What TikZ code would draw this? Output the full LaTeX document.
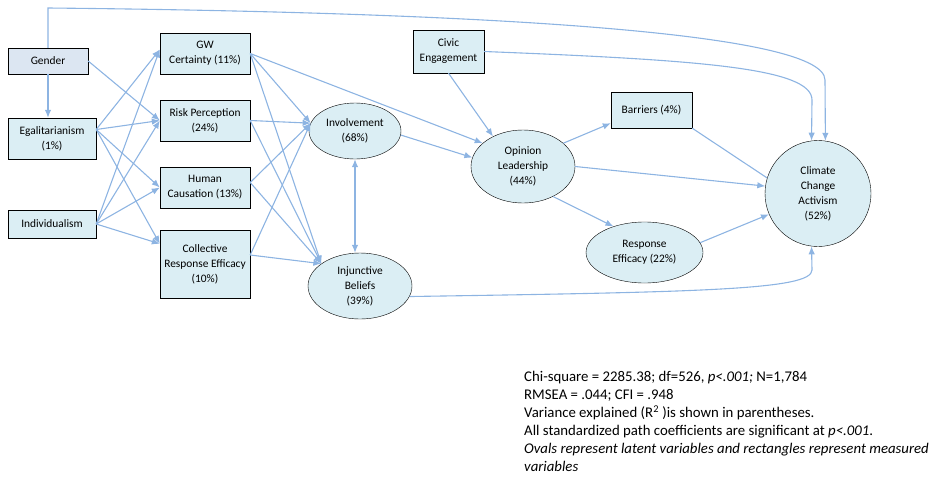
\documentclass[tikz,border=0pt]{standalone}
\usepackage{fontspec}
\setmainfont{Carlito}
\usetikzlibrary{positioning, calc, arrows.meta, shapes.geometric}

\definecolor{linkblue}{RGB}{141,180,226}
\definecolor{boxfill}{RGB}{219,238,244}
\definecolor{genderfill}{RGB}{220,230,242}

\begin{document}
\begin{tikzpicture}[x=1pt, y=-1pt,
    measured/.style={draw, fill=boxfill, align=center, inner sep=1pt, font=\fontsize{11.4}{15}\selectfont},
    latent/.style={ellipse, draw, fill=boxfill, align=center, inner sep=0pt, font=\fontsize{11.4}{15}\selectfont},
    link/.style={linkblue, line width=1.1pt, -{Latex[length=8pt, width=6.5pt]}},
    plainlink/.style={linkblue, line width=1.1pt},
    ]
    \useasboundingbox (0,0) rectangle (936,477);

    % measured variables (rectangles)
    \node[measured, fill=genderfill, minimum width=80, minimum height=26] (gender) at (48,61) {Gender};
    \node[measured, minimum width=88, minimum height=41] (egal) at (52,138.5) {Egalitarianism\\(1\%)};
    \node[measured, minimum width=88, minimum height=28] (ind) at (52,224) {Individualism};
    \node[measured, minimum width=90, minimum height=41] (gw) at (205,53.5) {GW\\Certainty (11\%)};
    \node[measured, minimum width=90, minimum height=41] (risk) at (205,120.5) {Risk Perception\\(24\%)};
    \node[measured, minimum width=90, minimum height=41] (human) at (205,187.5) {Human\\Causation (13\%)};
    \node[measured, minimum width=90, minimum height=68] (cre) at (205,264) {Collective\\Response Efficacy\\(10\%)};
    \node[measured, minimum width=71, minimum height=43] (civic) at (448.5,51.5) {Civic\\Engagement};
    \node[measured, minimum width=81, minimum height=36] (barriers) at (651.5,110) {Barriers (4\%)};

    % latent variables (ovals)
    \node[latent, minimum width=92, minimum height=56] (inv) at (355,131) {Involvement\\(68\%)};
    \node[latent, minimum width=104, minimum height=66] (inj) at (360,286) {Injunctive\\Beliefs\\(39\%)};
    \node[latent, minimum width=104, minimum height=73] (ol) at (523,166.5) {Opinion\\Leadership\\(44\%)};
    \node[latent, minimum width=117, minimum height=61] (re) at (644.5,252.5) {Response\\Efficacy (22\%)};
    \node[circle, draw, fill=boxfill, align=center, inner sep=0pt, minimum size=106,
          font=\fontsize{11.4}{15}\selectfont] (cca) at (818,193.5) {Climate\\Change\\Activism\\(52\%)};

    % connector end points
    \coordinate (egalout) at ([yshift=9pt]egal.east);
    \coordinate (gwin) at ([yshift=4pt]gw.west);
    \coordinate (crein) at ([yshift=-14pt]cre.north west);
    \coordinate (humanout) at ([yshift=5pt]human.east);
    \coordinate (creout) at ([yshift=9pt]cre.east);
    \coordinate (barin) at ([yshift=5pt]barriers.south west);
    \coordinate (topleft) at (48,8);
    \coordinate (topright) at (825,80);
    \coordinate (civicbend) at (812,100);
    \coordinate (injbend) at (812,270);

    % gender paths
    \draw[link] (gender.south) -- (gender.south |- egal.north);
    \draw[link] (gender.east) -- (risk.west);
    \draw[link] (gender.north) -- (topleft) .. controls (450,12) and (825,30) .. (topright) -- (cca.82);

    % values -> beliefs
    \foreach \src in {egalout, ind.east}
        \foreach \dst in {gwin, risk.west, human.west, crein}
            \draw[link] (\src) -- (\dst);

    % beliefs -> involvement, injunctive beliefs
    \foreach \src in {gw.east, risk.east, humanout, creout} {
        \draw[link] (\src) -- (inv.170);
        \draw[link] (\src) -- (inj.150);
    }
    \draw[link, {Latex[length=8pt, width=6.5pt]}-{Latex[length=8pt, width=6.5pt]}] (inv.south) -- (inv.south |- inj.north);

    % opinion leadership
    \draw[link] (gw.east) -- (ol.150);
    \draw[link] (inv.355) -- (ol.170);
    \draw[link] (civic.south) -- (ol.135);
    \draw[link] (ol.30) -- (barin);
    \draw[link] (ol.-45) -- (re.140);
    \draw[link] (ol.east) -- (cca.172);

    % activism
    \draw[plainlink] (barriers.south east) -- (cca.163);
    \draw[link] (re.10) -- (cca.203);
    \draw[link] (civic.east) .. controls (700,60) and (812,68) .. (civicbend) -- (cca.97);
    \draw[link] (inj.-12) .. controls (700,292) and (812,290) .. (injbend) -- (cca.263);

    % notes
    \node[anchor=north west, inner sep=0pt, align=left, font=\fontsize{14.8}{18}\selectfont] (notes) at (524,371)
        {Chi-square = 2285.38; df=526, \textit{p<.001;} N=1,784\\
         RMSEA = .044; CFI = .948\\
         Variance explained (R\textsuperscript{2} )is shown in parentheses.\\
         All standardized path coefficients are significant at \textit{p<.001}.\\
         \textit{Ovals represent latent variables and rectangles represent measured}\\
         \textit{variables}};
\end{tikzpicture}
\end{document}
